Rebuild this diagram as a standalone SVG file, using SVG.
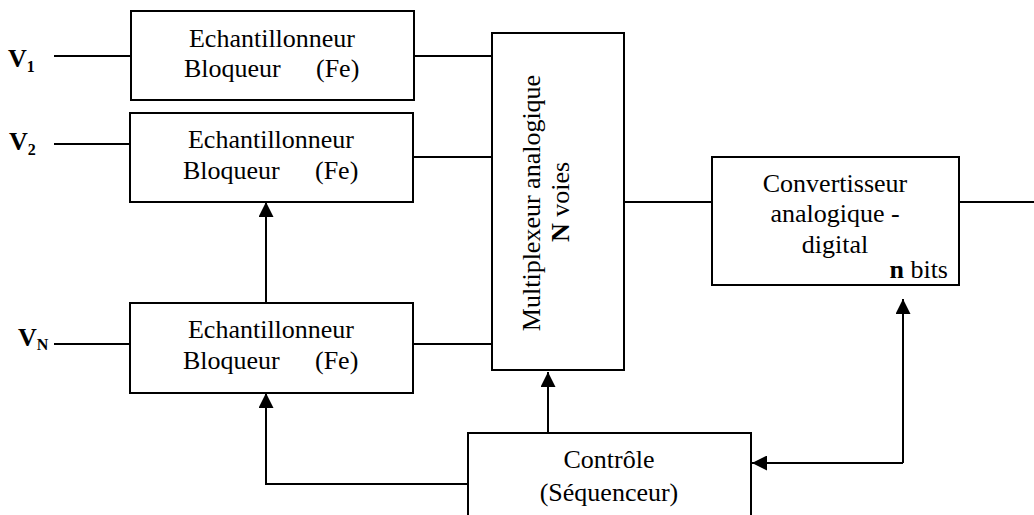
<svg xmlns="http://www.w3.org/2000/svg" width="1034" height="515" viewBox="0 0 1034 515">
  <style>
    .box { fill: #fff; stroke: #000; stroke-width: 2; }
    .wire { fill: none; stroke: #000; stroke-width: 2; }
    text { font-family: "Liberation Serif", "Times New Roman", serif; font-size: 26px; fill: #000; }
    .c { text-anchor: middle; }
    .b { font-weight: bold; }
    .sub { font-size: 16px; font-weight: bold; }
  </style>
  <defs>
    <marker id="arrow" viewBox="0 0 15 15" refX="15" refY="7.5" markerWidth="15" markerHeight="15" markerUnits="userSpaceOnUse" orient="auto">
      <path d="M0,0 L15,7.5 L0,15 Z" fill="#000"/>
    </marker>
  </defs>

  <rect width="1034" height="515" fill="#fff"/>

  <!-- connectors -->
  <g id="connectors" class="wire">
    <line x1="54" y1="56" x2="131" y2="56"/>
    <line x1="54" y1="144" x2="130" y2="144"/>
    <line x1="54" y1="344" x2="130" y2="344"/>
    <line x1="414" y1="56" x2="492" y2="56"/>
    <line x1="413" y1="157" x2="492" y2="157"/>
    <line x1="413" y1="344" x2="492" y2="344"/>
    <line x1="624" y1="202" x2="712" y2="202"/>
    <line x1="959" y1="202" x2="1034" y2="202"/>
    <!-- sample-hold chain -->
    <line x1="266" y1="303" x2="266" y2="202" marker-end="url(#arrow)"/>
    <polyline points="468,484 266,484 266,393" marker-end="url(#arrow)"/>
    <!-- control to multiplexer -->
    <line x1="548" y1="433" x2="548" y2="372" marker-end="url(#arrow)"/>
    <!-- converter / control handshake -->
    <line x1="903" y1="463" x2="903" y2="299" marker-end="url(#arrow)"/>
    <line x1="903" y1="463" x2="752" y2="463" marker-end="url(#arrow)"/>
  </g>

  <!-- inputs -->
  <g id="input-v1">
    <text x="8" y="67" class="b" font-size="24">V<tspan class="sub" dy="5">1</tspan></text>
  </g>
  <g id="input-v2">
    <text x="9" y="150" class="b" font-size="24">V<tspan class="sub" dy="5">2</tspan></text>
  </g>
  <g id="input-vn">
    <text x="18" y="346" class="b" font-size="24">V<tspan class="sub" dy="4">N</tspan></text>
  </g>

  <!-- sample and hold blocks -->
  <g id="sh1">
    <rect class="box" x="131" y="11" width="283" height="89"/>
    <text x="272" y="47" class="c">Echantillonneur</text>
    <text x="184" y="77">Bloqueur</text>
    <text x="316" y="77">(Fe)</text>
  </g>
  <g id="sh2">
    <rect class="box" x="130" y="113" width="283" height="89"/>
    <text x="271" y="148" class="c">Echantillonneur</text>
    <text x="183" y="179">Bloqueur</text>
    <text x="315" y="179">(Fe)</text>
  </g>
  <g id="shN">
    <rect class="box" x="130" y="303" width="283" height="90"/>
    <text x="271" y="338" class="c">Echantillonneur</text>
    <text x="183" y="369">Bloqueur</text>
    <text x="315" y="369">(Fe)</text>
  </g>

  <!-- analog multiplexer -->
  <g id="mux">
    <rect class="box" x="492" y="33" width="132" height="337"/>
    <text transform="translate(540,203) rotate(-90)" class="c">Multiplexeur analogique</text>
    <text transform="translate(569,202) rotate(-90)" class="c"><tspan class="b">N</tspan> voies</text>
  </g>

  <!-- A/D converter -->
  <g id="adc">
    <rect class="box" x="712" y="157" width="247" height="128"/>
    <text x="835" y="192" class="c">Convertisseur</text>
    <text x="835" y="222" class="c">analogique -</text>
    <text x="835" y="253" class="c">digital</text>
    <text x="948" y="278" text-anchor="end"><tspan class="b">n</tspan> bits</text>
  </g>

  <!-- sequencer -->
  <g id="control">
    <rect class="box" x="468" y="433" width="283" height="100"/>
    <text x="609" y="468" class="c">Contrôle</text>
    <text x="609" y="501" class="c">(Séquenceur)</text>
  </g>
</svg>
